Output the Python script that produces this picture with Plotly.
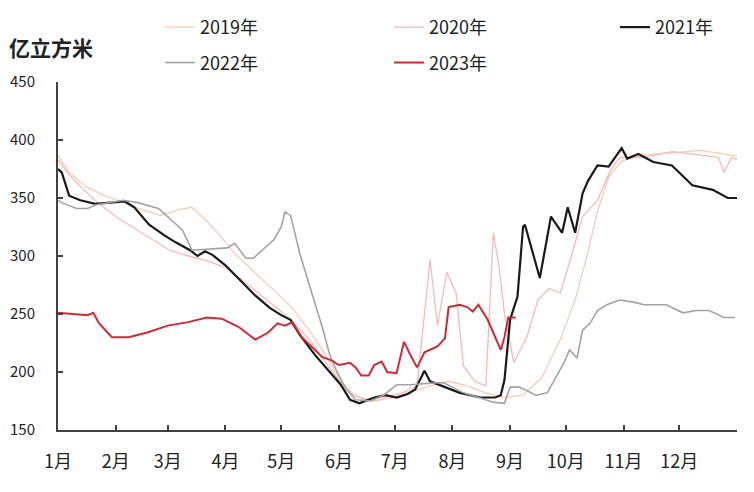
import plotly.graph_objects as go

# ---- data (day of year, value in 亿立方米) ----
days_2019 = [0, 6, 15, 25, 35, 45, 55, 65, 72, 80, 87, 95, 105, 115, 125, 135, 145, 152, 160, 170, 180, 190, 200, 210, 220, 230, 240, 250, 260, 270, 278, 284, 290, 296, 303, 315, 330, 345, 358, 365]
vals_2019 = [387, 372, 360, 352, 346, 340, 335, 340, 342, 330, 318, 302, 287, 272, 257, 236, 212, 192, 179, 175, 178, 183, 188, 192, 188, 182, 178, 180, 195, 228, 262, 298, 338, 368, 382, 387, 389, 391, 388, 386]

days_2020 = [0, 5, 12, 22, 32, 40, 50, 60, 70, 80, 90, 100, 110, 120, 128, 135, 143, 150, 157, 165, 175, 185, 193, 200, 204, 209, 214, 218, 224, 230, 234, 237, 240, 245, 252, 258, 264, 270, 276, 282, 290, 297, 302, 315, 330, 345, 355, 358, 362, 365]
vals_2020 = [383, 372, 360, 345, 333, 325, 315, 305, 300, 296, 290, 278, 265, 252, 240, 228, 210, 195, 182, 176, 178, 182, 188, 297, 240, 286, 268, 205, 192, 188, 320, 292, 250, 208, 230, 262, 272, 268, 300, 334, 348, 374, 385, 385, 390, 387, 385, 372, 385, 383]

days_2021 = [0, 2, 6, 12, 20, 30, 36, 41, 49, 57, 63, 71, 75, 79, 83, 90, 98, 106, 114, 120, 125, 130, 138, 146, 152, 157, 162, 170, 176, 182, 188, 192, 197, 200, 205, 216, 227, 235, 238, 240, 243, 247, 250, 251, 259, 265, 271, 274, 278, 282, 285, 290, 296, 301, 303, 306, 312, 320, 330, 341, 352, 360, 365]
vals_2021 = [375, 372, 352, 348, 345, 346, 347, 342, 327, 318, 312, 305, 300, 304, 301, 292, 279, 266, 255, 249, 245, 232, 215, 200, 189, 176, 173, 178, 180, 178, 181, 185, 201, 192, 189, 182, 178, 178, 180, 193, 245, 265, 325, 327, 281, 334, 320, 342, 320, 354, 365, 378, 377, 389, 393, 384, 388, 381, 378, 361, 357, 350, 350]

days_2022 = [0, 2, 10, 16, 20, 28, 35, 43, 54, 61, 67, 72, 91, 95, 101, 105, 116, 120, 122, 125, 130, 137, 142, 146, 150, 155, 160, 168, 175, 182, 190, 197, 207, 218, 234, 240, 243, 248, 257, 263, 267, 272, 275, 279, 282, 286, 290, 295, 302, 310, 315, 327, 336, 343, 350, 358, 364]
vals_2022 = [348, 346, 341, 341, 344, 346, 348, 346, 341, 331, 322, 305, 307, 311, 298, 298, 314, 325, 338, 335, 302, 265, 239, 215, 200, 185, 176, 175, 180, 189, 189, 190, 191, 182, 174, 173, 187, 187, 180, 182, 193, 208, 219, 212, 236, 242, 253, 258, 262, 260, 258, 258, 251, 253, 253, 247, 247]

days_2023 = [0, 16, 19, 22, 29, 38, 48, 59, 70, 80, 88, 97, 106, 113, 118, 122, 126, 131, 142, 147, 151, 157, 160, 163, 167, 170, 174, 177, 182, 186, 190, 193, 197, 204, 208, 210, 216, 220, 223, 226, 231, 235, 238, 240, 242, 246]
vals_2023 = [251, 249, 251, 242, 230, 230, 234, 240, 243, 247, 246, 239, 228, 234, 242, 240, 243, 230, 213, 210, 206, 208, 204, 197, 197, 206, 209, 200, 199, 226, 213, 204, 217, 222, 229, 256, 258, 256, 252, 258, 245, 230, 219, 230, 247, 247]

month_ticks = [0, 31, 59, 90, 120, 151, 181, 212, 243, 273, 304, 334, 365]
month_labels = ["1月", "2月", "3月", "4月", "5月", "6月", "7月", "8月", "9月", "10月", "11月", "12月", ""]
y_ticks = [150, 200, 250, 300, 350, 400, 450]

# name, days, values, colour, width, legend column
series = [
    ("2019年", days_2019, vals_2019, "#f3cdb6", 1.3, "legend"),
    ("2020年", days_2020, vals_2020, "#f5b9b9", 1.3, "legend2"),
    ("2021年", days_2021, vals_2021, "#1a1a1a", 2.2, "legend3"),
    ("2022年", days_2022, vals_2022, "#a3a3a3", 1.6, "legend"),
    ("2023年", days_2023, vals_2023, "#cc2b36", 2.0, "legend2"),
]

FONT = "Noto Sans CJK SC"
FS = 18
fig = go.Figure()
for name, d, v, c, w, lg in series:
    fig.add_trace(go.Scatter(x=d, y=v, name=name, mode="lines", legend=lg, legendgroup=name,
                             line=dict(color=c, width=w)))

# page body has an 8px margin: plot area should land at screen x 58..737, y 82..430
PW = 679

def leg(xpx):
    return dict(orientation="v", x=(xpx - 58) / PW, y=1.21, xanchor="left", yanchor="top",
                font=dict(family=FONT, size=FS, color="#222"), traceorder="grouped",
                bgcolor="rgba(0,0,0,0)", tracegroupgap=9, itemwidth=30)

fig.update_layout(
    width=746, height=484,
    margin=dict(l=50, r=17, t=74, b=62, autoexpand=False),
    paper_bgcolor="white", plot_bgcolor="white",
    font=dict(family=FONT, size=FS, color="#222"),
    showlegend=True,
    legend=leg(160), legend2=leg(389), legend3=leg(615),
    xaxis=dict(range=[0, 365], tickmode="array", tickvals=month_ticks, ticktext=month_labels,
               showgrid=False, zeroline=False, showline=True, linecolor="#404040", linewidth=2,
               ticks="inside", ticklen=5, tickwidth=1.5, tickcolor="#404040",
               ticklabelstandoff=14, tickfont=dict(family=FONT, size=FS, color="#222")),
    yaxis=dict(range=[150, 450], tickmode="array", tickvals=y_ticks,
               showgrid=False, zeroline=False, showline=True, linecolor="#404040", linewidth=2,
               ticks="inside", ticklen=5, tickwidth=1.5, tickcolor="#404040",
               ticklabelstandoff=18, tickfont=dict(family=FONT, size=15, color="#222")),
    annotations=[dict(text="<b>亿立方米</b>", xref="paper", yref="paper", x=-0.075, y=1.1,
                      xanchor="left", yanchor="middle", showarrow=False,
                      font=dict(family=FONT, size=21, color="#222"))],
)

fig.write_html("out.html")
